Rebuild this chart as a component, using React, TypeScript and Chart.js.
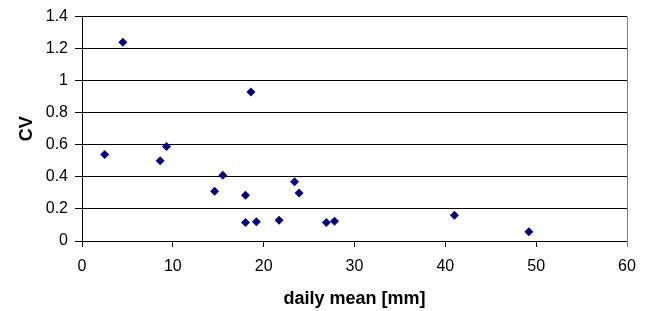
import React, { useEffect, useRef } from "react";
import { Chart, registerables } from "chart.js";

Chart.register(...registerables);

const dailyMean = [2.5, 4.5, 8.6, 9.3, 14.6, 15.5, 18.0, 18.0, 18.6, 19.2, 21.7, 23.4, 23.9, 26.9, 27.8, 41.0, 49.2];
const cv = [0.54, 1.24, 0.50, 0.59, 0.31, 0.41, 0.285, 0.115, 0.93, 0.12, 0.13, 0.37, 0.30, 0.115, 0.123, 0.16, 0.057];
const xTicks = [0, 10, 20, 30, 40, 50, 60];
const yTicks = [0, 0.2, 0.4, 0.6, 0.8, 1.0, 1.2, 1.4];
const xTitle = "daily mean [mm]";
const yTitle = "CV";

const FONT = "'Liberation Sans', Arial, sans-serif";

const rightBorder = {
  id: "rightBorder",
  afterDraw(chart: any) {
    const { ctx, chartArea } = chart;
    ctx.save();
    ctx.strokeStyle = "#808080";
    ctx.lineWidth = 1;
    ctx.beginPath();
    ctx.moveTo(Math.round(chartArea.right) + 0.5, chartArea.top);
    ctx.lineTo(Math.round(chartArea.right) + 0.5, chartArea.bottom + 6);
    ctx.stroke();
    ctx.restore();
  },
};

export default function App() {
  const ref = useRef<HTMLCanvasElement>(null);
  useEffect(() => {
    if (!ref.current) return;
    const data = dailyMean.map((x, i) => ({ x, y: cv[i] }));
    const chart = new Chart(ref.current, {
      type: "scatter",
      data: {
        datasets: [
          {
            data,
            pointStyle: "rectRot",
            pointRadius: 4.5,
            pointBackgroundColor: "#000080",
            pointBorderColor: "#000080",
            pointBorderWidth: 0,
          },
        ],
      },
      plugins: [rightBorder],
      options: {
        animation: false,
        responsive: true,
        maintainAspectRatio: false,
        layout: { padding: { top: 15, right: 22, bottom: 0, left: 0 } },
        plugins: { legend: { display: false }, tooltip: { enabled: false } },
        scales: {
          x: {
            type: "linear",
            min: 0,
            max: 60,
            afterFit: (s: any) => {
              s.height = 70;
            },
            afterBuildTicks: (s: any) => {
              s.ticks = xTicks.map((v) => ({ value: v }));
            },
            ticks: {
              color: "#000",
              font: { family: FONT, size: 16 },
              padding: 10,
              maxRotation: 0,
              callback: (v: any) => String(v),
            },
            grid: {
              drawOnChartArea: false,
              drawTicks: true,
              tickLength: 6,
              color: "#000",
            },
            border: { display: true, color: "#000", width: 1 },
            title: {
              display: true,
              text: xTitle,
              color: "#000",
              font: { family: FONT, size: 18, weight: "bold" },
              padding: { top: 0, bottom: 1 },
            },
          },
          y: {
            type: "linear",
            min: 0,
            max: 1.4,
            afterFit: (s: any) => {
              s.width = 82;
            },
            afterBuildTicks: (s: any) => {
              s.ticks = yTicks.map((v) => ({ value: v }));
            },
            ticks: {
              color: "#000",
              font: { family: FONT, size: 16 },
              padding: 7,
              callback: (v: any) => String(Number(Number(v).toFixed(1))),
            },
            grid: {
              drawOnChartArea: true,
              drawTicks: true,
              tickLength: 7,
              color: "#000",
              lineWidth: 1,
            },
            border: { display: true, color: "#000", width: 1 },
            title: {
              display: true,
              text: yTitle,
              color: "#000",
              font: { family: FONT, size: 18, weight: "bold" },
              padding: { top: 16, bottom: 0 },
            },
          },
        },
      },
    });
    return () => chart.destroy();
  }, []);
  return (
    <div style={{ position: "fixed", left: 0, top: 0, width: 649, height: 311, background: "#fff" }}>
      <canvas ref={ref} />
    </div>
  );
}
